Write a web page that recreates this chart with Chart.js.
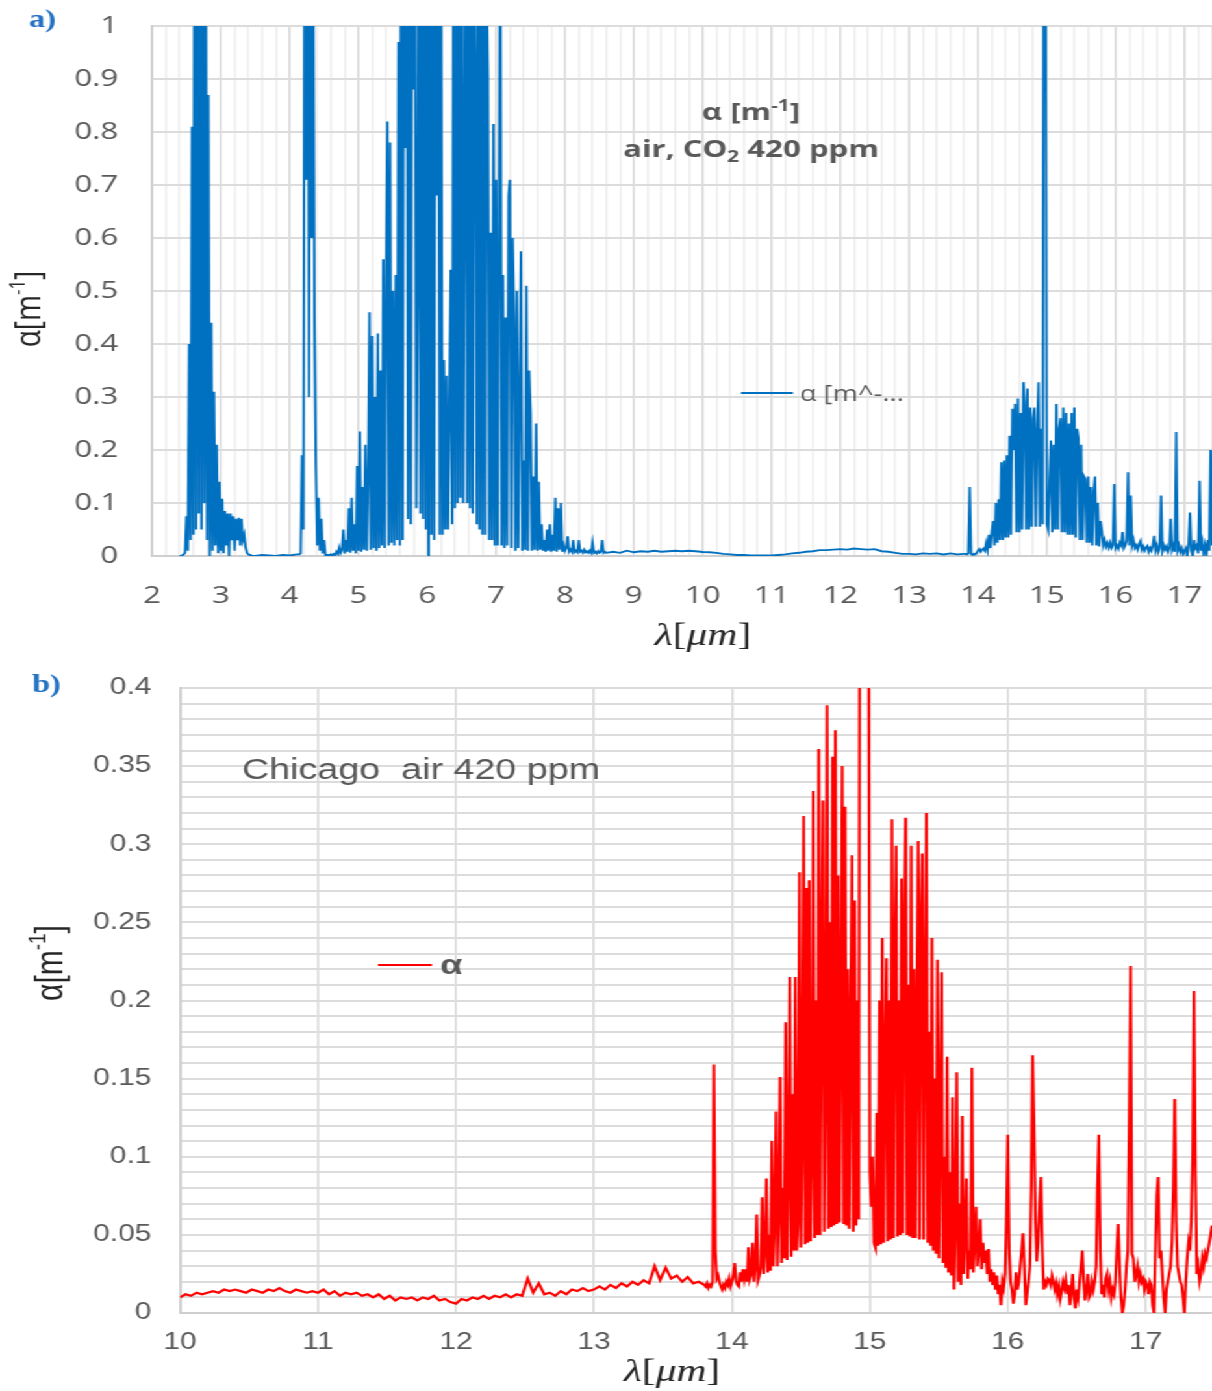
<!DOCTYPE html>
<html>
<head>
<meta charset="utf-8">
<title>Absorption coefficient α</title>
<script src="https://cdn.jsdelivr.net/npm/chart.js"></script>
<style>
  html, body { margin: 0; padding: 0; background: #fff; }
  body { width: 1212px; height: 1391px; overflow: hidden; position: relative; }
  /* the source figure is a horizontally stretched screenshot: draw narrow, stretch to 1212 */
  #stretch { position: absolute; left: 0; top: 0; width: 933px; height: 1391px;
             transform: scaleX(1.29904); transform-origin: 0 0; }
  canvas { position: absolute; left: 0; }
  #chartA { top: 0; }
  #chartB { top: 660px; }
</style>
</head>
<body>
<div id="stretch">
  <canvas id="chartA" width="933" height="660"></canvas>
  <canvas id="chartB" width="933" height="731"></canvas>
</div>
<script>
const STRETCH = 1212 / 933;
const px = (x) => x / STRETCH;   // page x -> canvas x

const BLUE = '#0070c0';
const RED = '#ff0000';
const GREY = '#595959';
const DARK = '#262626';

// ---------- a) air, CO2 420 ppm : wavelength (µm) vs α (1/m) ----------
const xLabelsA = [2, 3, 4, 5, 6, 7, 8, 9, 10, 11, 12, 13, 14, 15, 16, 17];
const yLabelsA = [0, 0.1, 0.2, 0.3, 0.4, 0.5, 0.6, 0.7, 0.8, 0.9, 1];

// H2O band near 2.7 µm, λ 2.40 … 3.46 step 0.02
const h2o27 = [
  0, 0, 0.001, 0.003, 0.006, 0.075, 0.01, 0.40, 0.03, 0.81,
  0.04, 1.4, 0.05, 1.6, 0.08, 1.5, 0.05, 1.3, 0.1, 1.2,
  0.03, 0.87, 0.0, 0.44, 0.01, 0.31, 0.02, 0.21, 0.005, 0.14,
  0.01, 0.108, 0.005, 0.085, 0.02, 0.08, 0.0, 0.08, 0.03, 0.075,
  0.01, 0.07, 0.03, 0.072, 0.02, 0.07, 0.03, 0.04, 0.016, 0.006,
  0.003, 0.002, 0.001, 0
];
// λ 3.5 … 4.1 step 0.1
const gap34 = [0, 0.002, 0.001, 0, 0.002, 0.001, 0.003];
// CO2 band near 4.3 µm, λ 4.14 … 4.52 step 0.02
const co2_43 = [0.003, 0.005, 0.19, 0.05, 1.5, 0.71, 1.6, 0.3, 1.5, 0.6,
  1.2, 0.44, 0.175, 0.02, 0.11, 0.01, 0.07, 0.005, 0.03, 0.002];
// H2O band near 6.3 µm, λ 4.56 … 8.60 step 0.02
const h2o63 = [
  0.002, 0.001, 0.003, 0.001, 0.004, 0.002, 0.008, 0.004, 0.016, 0.006,
  0.012, 0.05, 0.005, 0.03, 0.008, 0.09, 0.006, 0.11, 0.01, 0.06,
  0.005, 0.17, 0.01, 0.235, 0.008, 0.13, 0.012, 0.21, 0.01, 0.15,
  0.46, 0.012, 0.415, 0.015, 0.30, 0.01, 0.42, 0.015, 0.35, 0.02,
  0.56, 0.015, 0.5, 0.82, 0.02, 0.78, 0.025, 0.5, 0.02, 0.53,
  0.03, 0.97, 0.02, 1.4, 0.03, 1.2, 0.77, 1.5, 0.07, 1.3,
  0.06, 1.6, 0.88, 1.4, 0.09, 0.51, 1.5, 0.08, 1.3, 0.07,
  1.6, 0.05, 1.4, 0.0, 1.5, 0.04, 1.3, 0.03, 1.6, 0.68,
  1.2, 0.04, 1.1, 0.04, 0.37, 0.05, 0.34, 0.05, 0.28, 0.54,
  0.06, 1.3, 0.09, 1.5, 0.1, 1.4, 0.11, 1.6, 0.1, 0.635,
  1.5, 0.1, 1.3, 0.09, 1.4, 0.08, 1.2, 0.89, 0.06, 1.5,
  0.05, 1.3, 0.04, 1.4, 0.04, 1.1, 0.9, 0.03, 0.61, 0.03,
  0.815, 0.02, 0.71, 0.02, 0.6, 1.3, 0.02, 0.53, 0.015, 0.45,
  0.02, 0.68, 0.71, 0.015, 0.6, 0.45, 0.01, 0.5, 0.015, 0.3,
  0.575, 0.01, 0.18, 0.012, 0.51, 0.01, 0.35, 0.27, 0.01, 0.15,
  0.012, 0.25, 0.01, 0.14, 0.012, 0.06, 0.01, 0.03, 0.008, 0.05,
  0.01, 0.06, 0.008, 0.04, 0.01, 0.11, 0.008, 0.09, 0.012, 0.10,
  0.008, 0.02, 0.01, 0.015, 0.037, 0.008, 0.012, 0.008, 0.03, 0.007,
  0.01, 0.007, 0.03, 0.008, 0.01, 0.006, 0.012, 0.007, 0.009, 0.006,
  0.01, 0.006, 0.025, 0.006, 0.008, 0.005, 0.009, 0.006, 0.008, 0.03,
  0.006, 0.008, 0.006
];
// atmospheric window, λ 8.7 … 13.8 step 0.1
const window10 = [
  0.008, 0.006, 0.01, 0.007, 0.009, 0.008, 0.01, 0.008, 0.009, 0.01,
  0.009, 0.01, 0.009, 0.0075, 0.007, 0.006, 0.004, 0.003, 0.002, 0.002,
  0.001, 0.001, 0.001, 0.001, 0.002, 0.003, 0.005, 0.006, 0.008, 0.009,
  0.011, 0.011, 0.012, 0.013, 0.012, 0.014, 0.013, 0.012, 0.013, 0.009,
  0.008, 0.006, 0.004, 0.004, 0.003, 0.005, 0.004, 0.005, 0.003, 0.005,
  0.003, 0.004
];
// CO2 band near 15 µm, λ 13.82 … 17.42 step 0.02
const co2_15a = [
  0.004, 0.003, 0.005, 0.13, 0.004, 0.002, 0.004, 0.003, 0.006, 0.01,
  0.013, 0.008, 0.012, 0.014, 0.01, 0.025, 0.012, 0.04, 0.015, 0.045,
  0.066, 0.02, 0.1, 0.025, 0.107, 0.03, 0.177, 0.03, 0.18, 0.035,
  0.19, 0.035, 0.227, 0.04, 0.278, 0.2, 0.287, 0.045, 0.297, 0.045,
  0.27, 0.05, 0.328, 0.29, 0.05, 0.316, 0.05, 0.28, 0.055, 0.26,
  0.28, 0.055, 0.24, 0.328, 0.055, 0.24, 0.06, 1.8, 1.2, 0.06,
  0.05, 0.14, 0.218, 0.045, 0.21, 0.05, 0.287, 0.05, 0.24, 0.26,
  0.045, 0.28, 0.045, 0.27, 0.04, 0.25, 0.04, 0.27, 0.04, 0.28,
  0.035, 0.24, 0.22, 0.03, 0.21, 0.03, 0.15, 0.145, 0.025, 0.15,
  0.025, 0.13, 0.02, 0.12, 0.15, 0.02, 0.1, 0.018, 0.066, 0.047,
  0.02, 0.03, 0.018, 0.025, 0.016, 0.025, 0.015, 0.02, 0.136, 0.015,
  0.02, 0.014, 0.025, 0.02, 0.045, 0.015, 0.02, 0.03, 0.158, 0.02,
  0.114, 0.02, 0.03, 0.015, 0.02, 0.012, 0.022, 0.028, 0.012, 0.018,
  0.01, 0.016, 0.019, 0.008, 0.015, 0.01, 0.02, 0.038, 0.01, 0.02,
  0.008, 0.015, 0.114, 0.01, 0.02, 0.012, 0.018, 0.008, 0.015, 0.07,
  0.012, 0.02, 0.008, 0.234, 0.01, 0.02, 0.008, 0.015, 0.003, 0.01,
  0.015, 0.0, 0.02, 0.082, 0.01, 0.0, 0.03, 0.015, 0.02, 0.005,
  0.142, 0.01, 0.025, 0.0, 0.02, 0.005, 0.03, 0.01, 0.2, 0.02,
  0.03
];

const segmentsA = [
  { from: 2.40, step: 0.02, values: h2o27 },
  { from: 3.50, step: 0.1, values: gap34 },
  { from: 4.14, step: 0.02, values: co2_43 },
  { from: 4.56, step: 0.02, values: h2o63 },
  { from: 8.70, step: 0.1, values: window10 },
  { from: 13.82, step: 0.02, values: co2_15a }
];

// ---------- b) Chicago air 420 ppm ----------
const xLabelsB = [10, 11, 12, 13, 14, 15, 16, 17];
const yLabelsB = [0, 0.05, 0.1, 0.15, 0.2, 0.25, 0.3, 0.35, 0.4];

// λ 10.00 … 13.76 step 0.04
const chicagoLow = [
  0.010, 0.012, 0.011, 0.013, 0.012, 0.013, 0.014, 0.013, 0.015, 0.014,
  0.015, 0.014, 0.013, 0.015, 0.014, 0.013, 0.015, 0.014, 0.016, 0.014,
  0.013, 0.015, 0.014, 0.013, 0.014, 0.013, 0.015, 0.012, 0.014, 0.011,
  0.013, 0.012, 0.013, 0.011, 0.012, 0.010, 0.012, 0.009, 0.011, 0.008,
  0.010, 0.009, 0.010, 0.008, 0.010, 0.009, 0.011, 0.008, 0.009, 0.007,
  0.006, 0.009, 0.008, 0.010, 0.009, 0.011, 0.009, 0.011, 0.010, 0.012,
  0.010, 0.012, 0.011, 0.022, 0.013, 0.019, 0.012, 0.013, 0.011, 0.014,
  0.012, 0.015, 0.014, 0.016, 0.014, 0.015, 0.017, 0.015, 0.018, 0.016,
  0.019, 0.017, 0.02, 0.018, 0.021, 0.019, 0.03, 0.021, 0.029, 0.022,
  0.024, 0.02, 0.023, 0.019, 0.02
];
// λ 13.80 … 17.48 step 0.01, one row per 0.1 µm
const chicagoBand = [
  0.018, 0.017, 0.019, 0.016, 0.018, 0.017, 0.02, 0.159, 0.04, 0.022,
  0.024, 0.02, 0.017, 0.015, 0.018, 0.016, 0.02, 0.018, 0.022, 0.017,
  0.02, 0.024, 0.032, 0.021, 0.018, 0.017, 0.026, 0.02, 0.028, 0.022,
  0.028, 0.02, 0.042, 0.022, 0.025, 0.045, 0.02, 0.03, 0.063, 0.021,
  0.024, 0.03, 0.074, 0.025, 0.04, 0.086, 0.026, 0.05, 0.027, 0.11,
  0.03, 0.06, 0.129, 0.03, 0.07, 0.151, 0.032, 0.08, 0.035, 0.186,
  0.034, 0.09, 0.215, 0.036, 0.14, 0.04, 0.215, 0.04, 0.06, 0.282,
  0.042, 0.12, 0.318, 0.044, 0.272, 0.045, 0.277, 0.046, 0.1, 0.334,
  0.048, 0.2, 0.05, 0.361, 0.05, 0.22, 0.328, 0.052, 0.15, 0.389,
  0.054, 0.25, 0.055, 0.356, 0.056, 0.373, 0.057, 0.28, 0.058, 0.2,
  0.35, 0.057, 0.324, 0.056, 0.22, 0.054, 0.18, 0.293, 0.052, 0.264,
  0.056, 0.2, 0.06, 0.7, 1.4, 1.6, 1.5, 1.2, 0.9, 0.5,
  0.09, 0.068, 0.1, 0.045, 0.042, 0.128, 0.043, 0.2, 0.044, 0.24,
  0.045, 0.16, 0.227, 0.046, 0.2, 0.047, 0.316, 0.048, 0.23, 0.299,
  0.049, 0.2, 0.05, 0.278, 0.051, 0.25, 0.317, 0.05, 0.21, 0.049,
  0.299, 0.048, 0.22, 0.048, 0.19, 0.302, 0.047, 0.25, 0.294, 0.047,
  0.2, 0.32, 0.045, 0.18, 0.043, 0.24, 0.04, 0.15, 0.038, 0.226,
  0.035, 0.12, 0.218, 0.032, 0.1, 0.029, 0.164, 0.026, 0.09, 0.024,
  0.138, 0.015, 0.06, 0.154, 0.02, 0.07, 0.018, 0.126, 0.025, 0.05,
  0.086, 0.022, 0.04, 0.028, 0.157, 0.026, 0.045, 0.068, 0.03, 0.04,
  0.06, 0.028, 0.045, 0.032, 0.04, 0.025, 0.041, 0.02, 0.028, 0.018,
  0.026, 0.015, 0.024, 0.012, 0.018, 0.005, 0.02, 0.016, 0.025, 0.06,
  0.114, 0.04, 0.02, 0.015, 0.006, 0.012, 0.026, 0.015, 0.02, 0.03,
  0.04, 0.051, 0.03, 0.005, 0.012, 0.02, 0.03, 0.08, 0.165, 0.12,
  0.06, 0.033, 0.045, 0.07, 0.087, 0.04, 0.015, 0.02, 0.018, 0.022,
  0.021, 0.018, 0.024, 0.02, 0.015, 0.019, 0.012, 0.017, 0.009, 0.014,
  0.02, 0.016, 0.021, 0.012, 0.018, 0.005, 0.014, 0.025, 0.01, 0.003,
  0.015, 0.01, 0.02, 0.03, 0.04, 0.02, 0.008, 0.015, 0.025, 0.01,
  0.012, 0.02, 0.015, 0.02, 0.03, 0.08, 0.114, 0.04, 0.012, 0.018,
  0.01, 0.022, 0.025, 0.015, 0.02, 0.01, 0.015, 0.012, 0.02, 0.04,
  0.057, 0.03, 0.01, 0.0, 0.005, 0.015, 0.03, 0.04, 0.12, 0.222,
  0.038, 0.035, 0.02, 0.025, 0.03, 0.02, 0.025, 0.02, 0.022, 0.015,
  0.02, 0.018, 0.012, 0.02, 0.018, 0.005, 0.0, 0.04, 0.075, 0.087,
  0.035, 0.04, 0.025, 0.01, 0.0, 0.015, 0.02, 0.025, 0.03, 0.045,
  0.08, 0.137, 0.06, 0.03, 0.025, 0.02, 0.018, 0.01, 0.0, 0.02,
  0.035, 0.045, 0.04, 0.06, 0.1, 0.206, 0.09, 0.025, 0.03, 0.02,
  0.025, 0.035, 0.03, 0.038, 0.035, 0.04, 0.045, 0.05, 0.056
];

const segmentsB = [
  { from: 10.00, step: 0.04, values: chicagoLow },
  { from: 13.80, step: 0.01, values: chicagoBand }
];

function buildPoints(segments) {
  const pts = [];
  segments.forEach(seg => {
    seg.values.forEach((v, i) => {
      pts.push({ x: +(seg.from + i * seg.step).toFixed(3), y: v });
    });
  });
  return pts;
}

// evenly spaced grid positions (gridlines only, not data)
function gridSteps(min, max, step) {
  const out = [];
  const n = Math.round((max - min) / step);
  for (let i = 0; i <= n; i++) out.push(+(min + i * step).toFixed(4));
  return out;
}

const isWhole = (v) => Math.abs(v - Math.round(v)) < 1e-6;

// draw a run of text pieces (for super/subscripts and mixed fonts)
function drawRich(ctx, parts, x, y, align) {
  let total = 0;
  parts.forEach(p => { ctx.font = p.f; p.w = ctx.measureText(p.t).width; total += p.w; });
  let cx = align === 'center' ? x - total / 2 : x;
  parts.forEach(p => {
    ctx.font = p.f;
    ctx.fillText(p.t, cx, y + (p.dy || 0));
    cx += p.w;
  });
}

function lambdaTitle(ctx, x, y) {
  ctx.fillStyle = DARK;
  drawRich(ctx, [
    { t: 'λ', f: 'italic 32px "Liberation Serif"' },
    { t: '[', f: '32px "Liberation Serif"' },
    { t: 'μm', f: 'italic 32px "Liberation Serif"' },
    { t: ']', f: '32px "Liberation Serif"' }
  ], x, y, 'center');
}

function alphaTitle(ctx, x, y, family, size) {
  ctx.save();
  ctx.translate(x, y);
  ctx.rotate(-Math.PI / 2);
  ctx.textBaseline = 'middle';
  ctx.fillStyle = DARK;
  drawRich(ctx, [
    { t: 'α[m', f: size + 'px ' + family },
    { t: '-1', f: Math.round(size * 0.62) + 'px ' + family, dy: -Math.round(size * 0.32) },
    { t: ']', f: size + 'px ' + family }
  ], 0, 0, 'center');
  ctx.restore();
}

const textA = {
  id: 'textA',
  afterDraw(chart) {
    const ctx = chart.ctx;
    ctx.save();
    ctx.textBaseline = 'alphabetic';
    ctx.fillStyle = '#2371c2';
    ctx.font = 'bold 25px "Liberation Serif"';
    ctx.fillText('a)', px(29), 27);

    ctx.fillStyle = GREY;
    const b24 = 'bold 24px "Open Sans"';
    const b16 = 'bold 16px "Open Sans"';
    drawRich(ctx, [{ t: 'α [m', f: b24 }, { t: '-1', f: b16, dy: -9 }, { t: ']', f: b24 }], px(751), 120, 'center');
    drawRich(ctx, [{ t: 'air, CO', f: b24 }, { t: '2', f: b16, dy: 5 }, { t: ' 420 ppm', f: b24 }], px(751), 157, 'center');

    ctx.strokeStyle = BLUE;
    ctx.lineWidth = 2;
    ctx.beginPath();
    ctx.moveTo(px(741), 393);
    ctx.lineTo(px(793), 393);
    ctx.stroke();
    ctx.fillStyle = GREY;
    ctx.font = '21px "Open Sans"';
    ctx.fillText('α [m^-...', px(800), 401);

    lambdaTitle(ctx, px(703), 645);
    alphaTitle(ctx, px(30), 309, '"Open Sans"', 28);
    ctx.restore();
  }
};

const textB = {
  id: 'textB',
  afterDraw(chart) {
    const ctx = chart.ctx;
    ctx.save();
    ctx.textBaseline = 'alphabetic';
    ctx.fillStyle = '#2371c2';
    ctx.font = 'bold 25px "Liberation Serif"';
    ctx.fillText('b)', px(32), 32);

    ctx.fillStyle = GREY;
    ctx.font = '29px "Liberation Sans"';
    ctx.fillText('Chicago  air 420 ppm', px(242), 119);

    ctx.strokeStyle = RED;
    ctx.lineWidth = 2;
    ctx.beginPath();
    ctx.moveTo(px(378), 305);
    ctx.lineTo(px(432), 305);
    ctx.stroke();
    ctx.fillStyle = GREY;
    ctx.font = 'bold 28px "Liberation Sans"';
    ctx.fillText('α', px(440), 314);

    lambdaTitle(ctx, px(672), 721);
    alphaTitle(ctx, px(52), 303, '"Liberation Sans"', 30);
    ctx.restore();
  }
};

function makeChart(canvasId, cfg) {
  return new Chart(document.getElementById(canvasId), {
    type: 'line',
    data: {
      datasets: [{
        data: buildPoints(cfg.segments),
        borderColor: cfg.color,
        borderWidth: cfg.lineWidth,
        pointRadius: 0,
        fill: false,
        tension: 0,
        clip: 0
      }]
    },
    options: {
      responsive: false,
      animation: false,
      devicePixelRatio: 1,
      normalized: true,
      layout: { padding: { top: cfg.top, right: 0, bottom: 0, left: 0 } },
      plugins: { legend: { display: false }, tooltip: { enabled: false } },
      scales: {
        x: {
          type: 'linear',
          min: cfg.xMin,
          max: cfg.xMax,
          afterFit: (s) => { s.height = cfg.xAxisHeight; },
          afterBuildTicks: (s) => { s.ticks = cfg.xGrid.map(v => ({ value: v })); },
          border: { color: '#cfcfcf', width: 2 },
          grid: {
            color: (c) => (c.tick && isWhole(c.tick.value)) ? '#d9d9d9' : '#eeeeee',
            lineWidth: 1.6,
            drawTicks: true,
            tickLength: cfg.xTickGap,
            tickColor: 'rgba(0,0,0,0)'
          },
          ticks: {
            autoSkip: false,
            maxRotation: 0,
            padding: 0,
            color: GREY,
            font: cfg.tickFont,
            callback: (v) => cfg.xLabels.some(l => Math.abs(l - v) < 1e-6) ? String(Math.round(v)) : ''
          }
        },
        y: {
          type: 'linear',
          min: 0,
          max: cfg.yMax,
          afterFit: (s) => { s.width = cfg.yAxisWidth; },
          afterBuildTicks: (s) => { s.ticks = cfg.yGrid.map(v => ({ value: v })); },
          border: { color: '#cfcfcf', width: 2 },
          grid: {
            color: '#dcdcdc',
            lineWidth: 2,
            drawTicks: true,
            tickLength: cfg.yTickGap,
            tickColor: 'rgba(0,0,0,0)'
          },
          ticks: {
            autoSkip: false,
            padding: 0,
            color: GREY,
            font: cfg.tickFont,
            callback: (v) => cfg.yLabels.some(l => Math.abs(l - v) < 1e-6) ? String(+v.toFixed(2)) : ''
          }
        }
      }
    },
    plugins: [cfg.textPlugin]
  });
}

makeChart('chartA', {
  segments: segmentsA,
  color: BLUE,
  lineWidth: 1.9,
  top: 26,
  xMin: 2, xMax: 17.4,
  xGrid: gridSteps(2, 17.4, 0.2),
  xLabels: xLabelsA,
  yMax: 1,
  yGrid: yLabelsA,
  yLabels: yLabelsA,
  xAxisHeight: 104,
  yAxisWidth: px(152),
  xTickGap: 26,
  yTickGap: 26,
  tickFont: { family: 'Open Sans', size: 24 },
  textPlugin: textA
});

makeChart('chartB', {
  segments: segmentsB,
  color: RED,
  lineWidth: 2.2,
  top: 28,
  xMin: 10, xMax: 17.48,
  xGrid: xLabelsB,
  xLabels: xLabelsB,
  yMax: 0.4,
  yGrid: gridSteps(0, 0.4, 0.01),
  yLabels: yLabelsB,
  xAxisHeight: 78,
  yAxisWidth: px(180),
  xTickGap: 16,
  yTickGap: 22,
  tickFont: { family: 'Liberation Sans', size: 23 },
  textPlugin: textB
});
</script>
</body>
</html>
